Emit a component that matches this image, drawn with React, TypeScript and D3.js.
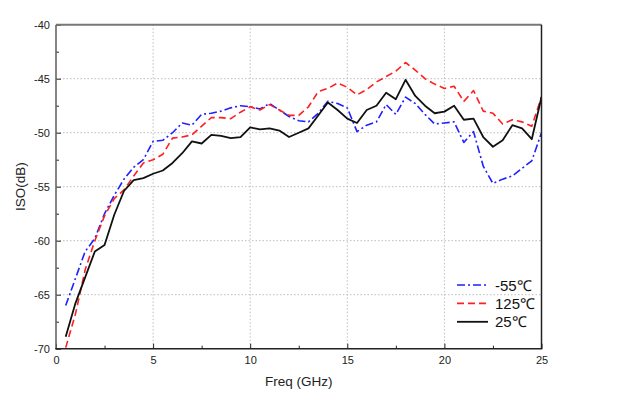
import { useEffect, useRef } from "react";
import * as d3 from "d3";

// frequency points (GHz)
const freqs = [
  0.5, 1, 1.5, 2, 2.5, 3, 3.5, 4, 4.5, 5, 5.5, 6, 6.5, 7, 7.5, 8, 8.5, 9, 9.5, 10,
  10.5, 11, 11.5, 12, 12.5, 13, 13.5, 14, 14.5, 15, 15.5, 16, 16.5, 17, 17.5, 18,
  18.5, 19, 19.5, 20, 20.5, 21, 21.5, 22, 22.5, 23, 23.5, 24, 24.5, 25,
];

const isoMinus55 = [
  -66.0, -63.5, -61.0, -59.8, -57.5, -55.8, -54.3, -53.2, -52.5, -50.8, -50.7,
  -50.0, -49.1, -49.3, -48.3, -48.2, -48.0, -47.7, -47.5, -47.6, -47.8, -47.3,
  -47.9, -48.5, -48.9, -49.0, -48.2, -47.1, -47.3, -47.7, -49.9, -49.3, -49.0,
  -47.4, -48.3, -46.7, -47.3, -48.3, -49.2, -49.1, -49.0, -50.9, -49.9, -53.1,
  -54.7, -54.3, -54.0, -53.3, -52.6, -50.0,
];

const iso125 = [
  -69.9, -66.8, -62.7, -60.0, -57.7, -56.1, -55.3, -54.0, -52.8, -52.5, -52.0,
  -50.5, -50.4, -50.2, -49.4, -48.6, -48.6, -48.7, -48.1, -47.6, -47.9, -47.4,
  -47.9, -48.4, -48.4, -47.6, -46.2, -45.9, -45.4, -45.8, -46.5, -46.0, -45.3,
  -44.8, -44.3, -43.5, -44.2, -45.0, -45.5, -45.9, -45.7, -47.1, -46.1, -48.0,
  -48.2, -49.2, -48.8, -49.0, -49.4, -46.7,
];

const iso25 = [
  -68.9, -65.8, -63.4, -61.0, -60.4, -57.6, -55.4, -54.4, -54.2, -53.8, -53.5,
  -52.8, -51.9, -50.8, -51.0, -50.2, -50.3, -50.5, -50.4, -49.5, -49.7, -49.6,
  -49.8, -50.4, -50.0, -49.6, -48.4, -47.2, -47.9, -48.7, -49.1, -47.9, -47.5,
  -46.3, -46.9, -45.1, -46.6, -47.5, -48.2, -48.05, -47.5, -48.8, -48.7, -50.4,
  -51.3, -50.7, -49.3, -49.6, -50.6, -46.7,
];

const xTicks = [0, 5, 10, 15, 20, 25];
const yTicks = [-70, -65, -60, -55, -50, -45, -40];

const series = [
  { label: "-55℃", values: isoMinus55, color: "#1f1fff", dash: "8,3,2,3", width: 1.6 },
  { label: "125℃", values: iso125, color: "#ff1f1f", dash: "7,4", width: 1.6 },
  { label: "25℃", values: iso25, color: "#111111", dash: null, width: 1.8 },
];

const W = 620;
const H = 393;
const left = 56;
const right = 541.5;
const top = 24.7;
const bottom = 348.7;
const font = "'Liberation Sans', Arial, sans-serif";

export default function App() {
  const svgRef = useRef<SVGSVGElement>(null);

  useEffect(() => {
    const svg = d3.select(svgRef.current);
    svg.selectAll("*").remove();

    const x = d3.scaleLinear().domain([0, 25]).range([left, right]);
    const y = d3.scaleLinear().domain([-70, -40]).range([bottom, top]);

    // grid
    const grid = svg.append("g");
    grid
      .selectAll("line.v")
      .data(xTicks.slice(1, -1))
      .enter()
      .append("line")
      .attr("x1", (d) => x(d))
      .attr("x2", (d) => x(d))
      .attr("y1", top)
      .attr("y2", bottom)
      .attr("stroke", "#bdbdbd")
      .attr("stroke-dasharray", "1.5,2");
    grid
      .selectAll("line.h")
      .data(yTicks.slice(1, -1))
      .enter()
      .append("line")
      .attr("x1", left)
      .attr("x2", right)
      .attr("y1", (d) => y(d))
      .attr("y2", (d) => y(d))
      .attr("stroke", "#bdbdbd")
      .attr("stroke-dasharray", "1.5,2");

    // lines
    const clip = svg
      .append("clipPath")
      .attr("id", "plotclip")
      .append("rect")
      .attr("x", left)
      .attr("y", top)
      .attr("width", right - left)
      .attr("height", bottom - top);

    const line = d3
      .line<number>()
      .x((d, i) => x(freqs[i]))
      .y((d) => y(d));

    series.forEach((s) => {
      svg
        .append("path")
        .attr("clip-path", "url(#plotclip)")
        .attr("d", line(s.values))
        .attr("fill", "none")
        .attr("stroke", s.color)
        .attr("stroke-width", s.width)
        .attr("stroke-dasharray", s.dash)
        .attr("stroke-linejoin", "round");
    });

    // axes, ticks pointing inward
    const xAxis = d3
      .axisBottom(x)
      .tickValues(d3.range(0, 25.01, 2.5))
      .tickSize(-4)
      .tickFormat((d) => (xTicks.includes(+d) ? String(d) : ""));
    const gx = svg
      .append("g")
      .attr("transform", `translate(0,${bottom})`)
      .call(xAxis);
    gx.select(".domain").remove();
    gx.selectAll(".tick line")
      .attr("stroke", "#222")
      .attr("y2", (d: any) => (xTicks.includes(+d) ? -5 : -3));
    gx.selectAll("text")
      .attr("y", 8)
      .attr("font-size", 11)
      .attr("font-family", font)
      .attr("fill", "#222");

    const yAxis = d3
      .axisLeft(y)
      .tickValues(d3.range(-70, -39.99, 2.5))
      .tickSize(-4)
      .tickFormat((d) => (yTicks.includes(+d) ? String(d) : ""));
    const gy = svg.append("g").attr("transform", `translate(${left},0)`).call(yAxis);
    gy.select(".domain").remove();
    gy.selectAll(".tick line")
      .attr("stroke", "#222")
      .attr("x2", (d: any) => (yTicks.includes(+d) ? 5 : 3));
    gy.selectAll("text")
      .attr("x", -6)
      .attr("font-size", 11)
      .attr("font-family", font)
      .attr("fill", "#222");

    // frame
    svg
      .append("line")
      .attr("x1", left)
      .attr("x2", right)
      .attr("y1", top)
      .attr("y2", top)
      .attr("stroke", "#777")
      .attr("stroke-width", 2);
    svg
      .append("line")
      .attr("x1", left)
      .attr("x2", left)
      .attr("y1", top)
      .attr("y2", bottom)
      .attr("stroke", "#666")
      .attr("stroke-width", 1.6);
    svg
      .append("line")
      .attr("x1", right)
      .attr("x2", right)
      .attr("y1", top)
      .attr("y2", bottom)
      .attr("stroke", "#222")
      .attr("stroke-width", 1.5);
    svg
      .append("line")
      .attr("x1", left - 0.8)
      .attr("x2", right + 0.75)
      .attr("y1", bottom)
      .attr("y2", bottom)
      .attr("stroke", "#222")
      .attr("stroke-width", 1.5);

    // axis titles
    svg
      .append("text")
      .attr("x", (left + right) / 2)
      .attr("y", 386)
      .attr("text-anchor", "middle")
      .attr("font-size", 13.5)
      .attr("font-family", font)
      .attr("fill", "#222")
      .text("Freq (GHz)");
    svg
      .append("text")
      .attr("transform", `translate(25,${(top + bottom) / 2}) rotate(-90)`)
      .attr("text-anchor", "middle")
      .attr("font-size", 13.5)
      .attr("font-family", font)
      .attr("fill", "#222")
      .text("ISO(dB)");

    // legend
    const lg = svg.append("g").attr("transform", "translate(457,285)");
    series.forEach((s, i) => {
      const row = lg.append("g").attr("transform", `translate(0,${i * 18.4})`);
      row
        .append("line")
        .attr("x1", 0)
        .attr("x2", 31)
        .attr("stroke", s.color)
        .attr("stroke-width", s.width)
        .attr("stroke-dasharray", s.dash);
      row
        .append("text")
        .attr("x", 38)
        .attr("y", 5.5)
        .attr("font-size", 15)
        .attr("font-family", font)
        .attr("fill", "#111")
        .text(s.label);
    });
  }, []);

  return (
    <svg
      ref={svgRef}
      width={W}
      height={H}
      viewBox={`0 0 ${W} ${H}`}
      style={{ position: "absolute", left: 0, top: 0, background: "#fff" }}
    />
  );
}
